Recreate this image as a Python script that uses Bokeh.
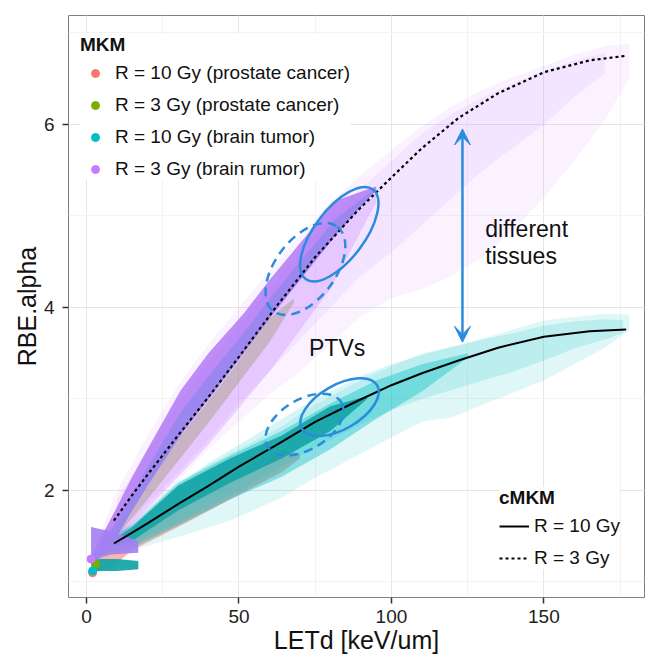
from bokeh.plotting import figure
from bokeh.models import (Range1d, SingleIntervalTicker, Legend, LegendItem, Label,
                          Arrow, VeeHead)
from bokeh.embed import file_html
from bokeh.resources import INLINE

FONT = "Liberation Sans"

# ---------------- data ----------------
# cMKM model curves
cmkm_let = [9, 15, 20, 30, 40, 50, 62.5, 75, 89, 100, 110, 122, 135, 150, 165, 177]
cmkm_r10 = [1.42, 1.54, 1.64, 1.85, 2.05, 2.26, 2.50, 2.75, 2.98, 3.15, 3.28, 3.42, 3.56, 3.68, 3.74, 3.76]
cmkm_r3 = [1.67, 1.95, 2.17, 2.60, 3.02, 3.46, 4.02, 4.55, 5.06, 5.42, 5.74, 6.07, 6.34, 6.57, 6.70, 6.75]

# MKM point clouds, described by their envelopes (LETd -> RBE.alpha)
# R = 10 Gy (prostate cancer)
red_let = [2, 8, 15, 30, 47, 64, 70]
red_lo = [1.10, 1.15, 1.35, 1.60, 1.90, 2.20, 2.35]
red_hi = [1.20, 1.40, 1.55, 1.85, 2.15, 2.45, 2.40]

# R = 3 Gy (prostate cancer)
green_let = [3, 10, 20, 30, 40, 50, 60, 68]
green_lo = [1.20, 1.50, 1.90, 2.32, 2.74, 3.18, 3.62, 4.05]
green_hi = [1.35, 1.68, 2.12, 2.56, 2.98, 3.42, 3.88, 4.10]

# R = 10 Gy (brain tumor)
teal_let = [3, 8, 15, 30, 47, 64, 73, 92, 110, 120, 131, 150, 170, 178]
teal_lo = [1.20, 1.30, 1.35, 1.49, 1.67, 1.92, 2.10, 2.44, 2.75, 2.80, 2.95, 3.20, 3.56, 3.75]
teal_hi = [1.35, 1.50, 1.65, 2.10, 2.40, 2.70, 2.90, 3.24, 3.50, 3.57, 3.67, 3.86, 3.93, 3.92]
teal_in_let = [10, 20, 30, 40, 50, 60, 70, 80, 90, 100, 110, 120, 130, 140, 150, 160, 170, 176]
teal_in_lo = [1.36, 1.50, 1.65, 1.82, 2.00, 2.18, 2.38, 2.55, 2.72, 2.88, 3.00, 3.10, 3.20, 3.30, 3.42, 3.55, 3.65, 3.72]
teal_in_hi = [1.50, 1.75, 2.05, 2.30, 2.50, 2.70, 2.90, 3.08, 3.25, 3.38, 3.48, 3.57, 3.65, 3.72, 3.80, 3.85, 3.87, 3.86]
teal_mid_let = [5, 15, 30, 47, 64, 80, 95, 110, 125]
teal_mid_lo = [1.30, 1.38, 1.62, 1.90, 2.15, 2.45, 2.78, 3.08, 3.45]
teal_mid_hi = [1.45, 1.62, 2.08, 2.38, 2.65, 2.95, 3.20, 3.38, 3.50]
teal_core_let = [8, 15, 30, 47, 64, 80, 92]
teal_core_lo = [1.38, 1.45, 1.78, 2.08, 2.35, 2.65, 3.00]
teal_core_hi = [1.45, 1.60, 2.05, 2.35, 2.60, 2.92, 3.03]
teal_tail_let = [2, 10, 17]
teal_tail_lo = [1.12, 1.12, 1.14]
teal_tail_hi = [1.25, 1.25, 1.23]

# R = 3 Gy (brain tumor)
purple_let = [3, 10, 20, 30, 40, 50, 60, 70, 80, 90, 100, 110, 120, 130, 140, 150, 160, 170, 178]
purple_lo = [1.20, 1.40, 1.75, 2.10, 2.45, 2.75, 3.05, 3.30, 3.60, 3.90, 4.10, 4.20, 4.35, 4.55, 4.85, 5.20, 5.60, 6.05, 6.50]
purple_hi = [1.40, 2.00, 2.60, 3.15, 3.60, 4.00, 4.40, 4.78, 5.15, 5.45, 5.72, 5.98, 6.20, 6.38, 6.52, 6.64, 6.76, 6.86, 6.88]
purple_in_let = [10, 20, 30, 40, 50, 60, 70, 80, 90, 100, 110, 120, 130, 140, 150, 160, 170]
purple_in_lo = [1.45, 1.85, 2.20, 2.55, 2.95, 3.30, 3.65, 4.00, 4.35, 4.60, 4.90, 5.20, 5.50, 5.75, 6.00, 6.30, 6.55]
purple_in_hi = [1.90, 2.45, 2.95, 3.40, 3.80, 4.20, 4.60, 5.00, 5.30, 5.60, 5.90, 6.12, 6.30, 6.45, 6.58, 6.70, 6.78]
purple_mid_let = [3, 10, 20, 30, 40, 50, 60, 70, 80, 95]
purple_mid_lo = [1.20, 1.45, 1.80, 2.15, 2.50, 2.90, 3.30, 3.75, 4.20, 5.15]
purple_mid_hi = [1.45, 1.75, 2.20, 2.65, 3.05, 3.50, 3.95, 4.35, 4.75, 5.25]
purple_band_let = [1.5, 5, 10, 14.4, 20, 30.8, 40, 51.5, 60, 70, 82, 95]
purple_band_lo = [1.15, 1.30, 1.50, 1.75, 2.05, 2.60, 3.00, 3.50, 3.88, 4.30, 4.80, 5.28]
purple_band_hi = [1.27, 1.50, 1.82, 2.11, 2.45, 3.09, 3.50, 3.93, 4.30, 4.70, 5.17, 5.32]
purple_core_hi = [1.22, 1.40, 1.66, 1.93, 2.25, 2.85, 3.25, 3.72, 4.09, 4.50, 4.98, 5.30]
purple_tail_let = [1.5, 8, 17]
purple_tail_lo = [1.25, 1.30, 1.32]
purple_tail_hi = [1.60, 1.55, 1.45]

mkm_labels = ["R = 10 Gy (prostate cancer)", "R = 3 Gy (prostate cancer)",
              "R = 10 Gy (brain tumor)", "R = 3 Gy (brain rumor)"]
mkm_colors = ["#F8766D", "#7CAE00", "#00BFC4", "#C77CFF"]
cmkm_labels = ["R = 10 Gy", "R = 3 Gy"]

# ---------------- figure ----------------
p = figure(width=645, height=657, x_range=Range1d(-5.9, 183), y_range=Range1d(0.83, 7.19),
           output_backend="svg", toolbar_location=None,
           min_border_left=68, min_border_right=1, min_border_top=15, min_border_bottom=60,
           background_fill_color="white", border_fill_color="white")

p.outline_line_color = "#808080"
p.outline_line_width = 1

p.xaxis.ticker = SingleIntervalTicker(interval=50, num_minor_ticks=2)
p.yaxis.ticker = SingleIntervalTicker(interval=2, num_minor_ticks=2)
for ax in (p.xaxis, p.yaxis):
    ax.axis_line_color = None
    ax.major_tick_line_color = "#333333"
    ax.major_tick_line_width = 1.5
    ax.major_tick_out = 6
    ax.major_tick_in = 0
    ax.minor_tick_line_color = None
    ax.major_label_text_font = FONT
    ax.major_label_text_font_size = "19px"
    ax.major_label_text_color = "#222222"
    ax.axis_label_text_font = FONT
    ax.axis_label_text_font_size = "25px"
    ax.axis_label_text_font_style = "normal"
    ax.axis_label_text_color = "#111111"
    ax.axis_label_standoff = 0
p.xaxis.major_label_standoff = 6
p.yaxis.major_label_standoff = 8
p.xaxis.axis_label = "LETd [keV/um]"
p.yaxis.axis_label = "RBE.alpha"

for g in (p.xgrid, p.ygrid):
    g.grid_line_color = "#e6e6e6"
    g.grid_line_width = 1
    g.minor_grid_line_color = "#f3f3f3"
    g.minor_grid_line_width = 1

# ---------------- clouds ----------------
red, green, teal, purple = mkm_colors
p.varea(x=red_let, y1=red_lo, y2=red_hi, fill_color=red, fill_alpha=0.55)
p.varea(x=green_let, y1=green_lo, y2=green_hi, fill_color=green, fill_alpha=0.4)
p.varea(x=teal_let, y1=teal_lo, y2=teal_hi, fill_color=teal, fill_alpha=0.12)
p.varea(x=teal_in_let, y1=teal_in_lo, y2=teal_in_hi, fill_color=teal, fill_alpha=0.16)
p.varea(x=teal_mid_let, y1=teal_mid_lo, y2=teal_mid_hi, fill_color=teal, fill_alpha=0.4)
p.varea(x=teal_core_let, y1=teal_core_lo, y2=teal_core_hi, fill_color="#14A3A5", fill_alpha=0.9)
p.varea(x=teal_tail_let, y1=teal_tail_lo, y2=teal_tail_hi, fill_color="#17A5A7", fill_alpha=0.95)
p.varea(x=purple_let, y1=purple_lo, y2=purple_hi, fill_color=purple, fill_alpha=0.09)
p.varea(x=purple_in_let, y1=purple_in_lo, y2=purple_in_hi, fill_color=purple, fill_alpha=0.12)
p.varea(x=purple_mid_let, y1=purple_mid_lo, y2=purple_mid_hi, fill_color=purple, fill_alpha=0.28)
p.varea(x=purple_band_let, y1=purple_band_lo, y2=purple_band_hi, fill_color="#B47DF6", fill_alpha=0.88)
p.varea(x=purple_band_let, y1=purple_band_lo, y2=purple_core_hi, fill_color="#8E86EE", fill_alpha=0.7)
p.varea(x=purple_tail_let, y1=purple_tail_lo, y2=purple_tail_hi, fill_color="#A27FF2", fill_alpha=0.9)

# one representative point per MKM cloud (lowest-LET point); also used as legend keys
lows = [(red_let, red_lo), (green_let, green_lo), (teal_tail_let, teal_tail_lo),
        (purple_tail_let, purple_tail_lo)]
mkm_renderers = [p.scatter(x=lx[:1], y=ly[:1], size=8, fill_color=c, line_color=c)
                 for (lx, ly), c in zip(lows, mkm_colors)]

# ---------------- cMKM curves ----------------
l10 = p.line(cmkm_let, cmkm_r10, line_color="black", line_width=2)
l3 = p.line(cmkm_let, cmkm_r3, line_color="black", line_width=2.2, line_dash="3 3")

# ---------------- annotations ----------------
BLUE = "#2B8BDC"
p.ellipse(x=[82.9], y=[4.80], width=112, height=50, angle=53, angle_units="deg",
          width_units="screen", height_units="screen",
          fill_color=None, line_color=BLUE, line_width=2.5)
p.ellipse(x=[71.8], y=[4.42], width=106, height=60, angle=53, angle_units="deg",
          width_units="screen", height_units="screen",
          fill_color=None, line_color=BLUE, line_width=2.5, line_dash="9 6")
p.ellipse(x=[83.0], y=[2.91], width=87, height=44, angle=30, angle_units="deg",
          width_units="screen", height_units="screen",
          fill_color=None, line_color=BLUE, line_width=2.5)
p.ellipse(x=[71.5], y=[2.72], width=86, height=50, angle=31, angle_units="deg",
          width_units="screen", height_units="screen",
          fill_color=None, line_color=BLUE, line_width=2.5, line_dash="9 6")

p.add_layout(Arrow(start=VeeHead(size=16, fill_color=BLUE, line_color=BLUE),
                   end=VeeHead(size=16, fill_color=BLUE, line_color=BLUE),
                   x_start=123.3, y_start=3.62, x_end=123.3, y_end=5.95,
                   line_color=BLUE, line_width=2.5))

for txt, x, y, align in [("different", 130.8, 4.86, "left"), ("tissues", 130.8, 4.56, "left"),
                         ("PTVs", 82.2, 3.555, "center")]:
    p.add_layout(Label(x=x, y=y, text=txt, text_font=FONT, text_font_size="23px",
                       text_color="#111111", text_align=align, text_baseline="alphabetic"))

# ---------------- legends ----------------
leg1 = Legend(items=[LegendItem(label=l, renderers=[r]) for l, r in zip(mkm_labels, mkm_renderers)],
              title="MKM", location=(12, 417))
leg2 = Legend(items=[LegendItem(label=cmkm_labels[0], renderers=[l10]),
                     LegendItem(label=cmkm_labels[1], renderers=[l3])],
              title="cMKM", location=(431, 28))
for lg in (leg1, leg2):
    lg.title_text_font = FONT
    lg.title_text_font_size = "19px"
    lg.title_text_font_style = "bold"
    lg.title_text_color = "#111111"
    lg.title_standoff = 6
    lg.label_text_font = FONT
    lg.label_text_font_size = "19px"
    lg.label_text_color = "#111111"
    lg.glyph_width = 30
    lg.glyph_height = 20
    lg.label_height = 20
    lg.spacing = 10
    lg.padding = 4
    lg.margin = 0
    lg.label_standoff = 5
    lg.border_line_color = None
    lg.background_fill_color = "white"
    lg.background_fill_alpha = 1
    p.add_layout(lg, "center")

open("out.html", "w").write(file_html(p, INLINE))
